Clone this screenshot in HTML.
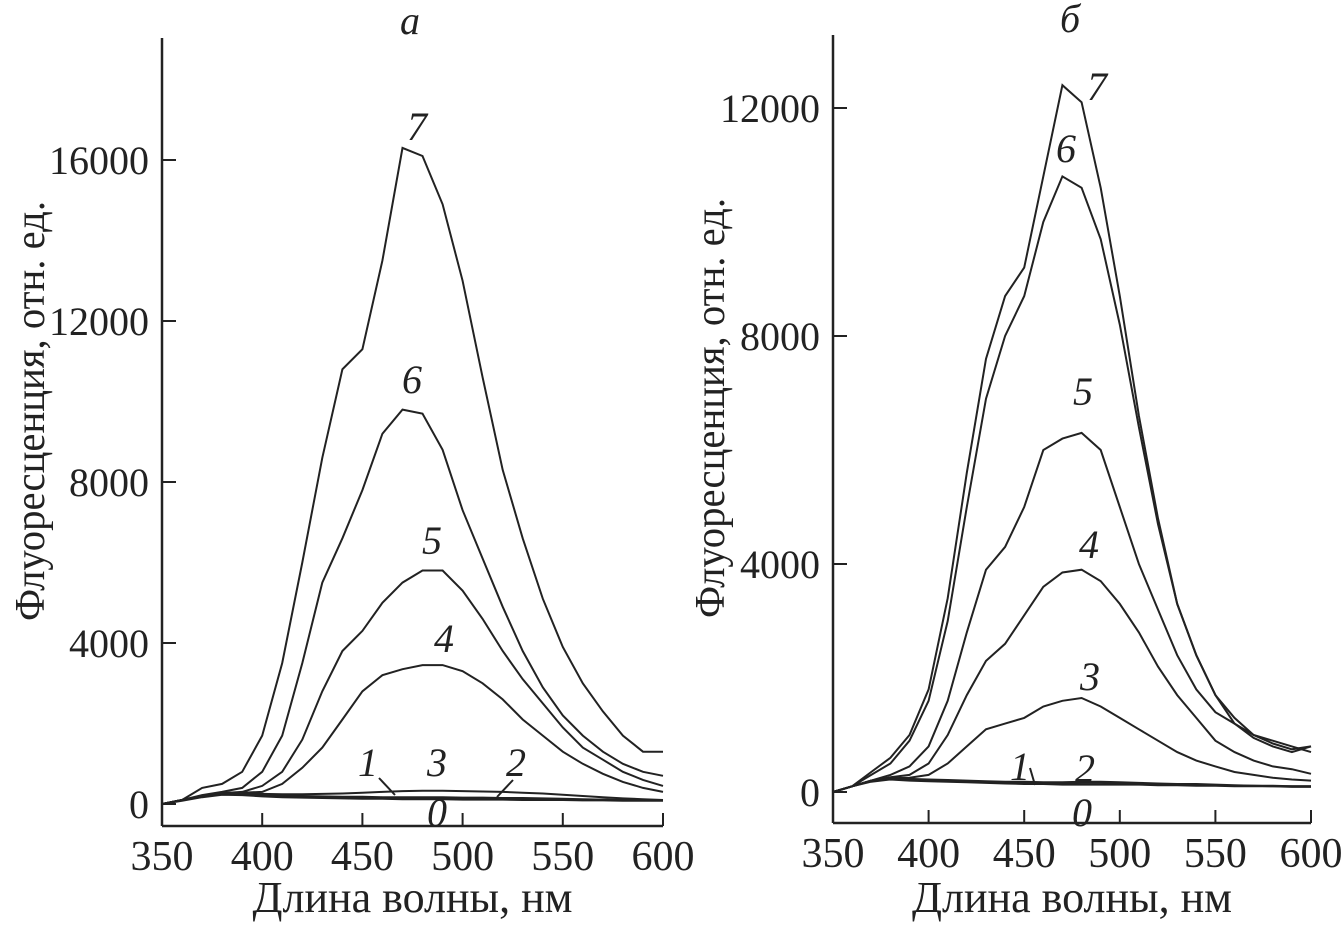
<!DOCTYPE html>
<html><head><meta charset="utf-8"><style>
body{margin:0;background:#fff}
svg{display:block;font-family:"Liberation Serif",serif}
</style></head><body>
<svg id="chart" width="1342" height="926" viewBox="0 0 1342 926">
<g id="pa"></g>
<g id="pb"></g>
</svg>
<script>
const wavelengths=[350,360,370,380,390,400,410,420,430,440,450,460,470,480,490,500,510,520,530,540,550,560,570,580,590,600];
const xTicks=[350,400,450,500,550,600];
const yTicksA=[0,4000,8000,12000,16000];
const yTicksB=[0,4000,8000,12000];
const a0=[0,80,170,230,220,190,170,160,150,140,130,130,120,120,120,110,110,110,100,100,100,90,90,80,80,80];
const a1=[0,100,200,280,260,230,210,190,180,170,160,160,150,150,150,140,140,130,130,120,120,110,110,100,100,100];
const a2=[0,100,200,260,250,230,210,200,190,180,180,170,170,170,170,160,160,150,150,140,130,120,110,100,100,90];
const a3=[0,100,200,280,270,250,240,240,250,260,280,300,320,330,330,320,310,300,280,260,230,200,170,140,120,100];
const a4=[0,100,200,260,280,300,500,900,1400,2100,2800,3200,3350,3450,3450,3300,3000,2600,2100,1700,1300,1000,750,550,400,300];
const a5=[0,100,200,270,300,450,800,1600,2800,3800,4300,5000,5500,5800,5800,5300,4600,3800,3100,2500,1900,1400,1100,800,600,450];
const a6=[0,100,220,300,400,800,1700,3500,5500,6600,7800,9200,9800,9700,8800,7300,6100,4900,3800,2900,2200,1700,1300,1000,800,700];
const a7=[0,100,400,500,800,1700,3500,6000,8600,10800,11300,13500,16300,16100,14900,13000,10600,8300,6600,5100,3900,3000,2300,1700,1300,1300];
const b0=[0,100,180,220,200,190,180,170,160,150,140,140,130,130,130,130,130,120,120,110,110,100,100,100,90,90];
const b1=[0,100,190,230,220,210,200,190,180,170,160,160,150,160,160,150,150,140,130,130,120,110,110,100,100,100];
const b2=[0,100,200,240,230,220,210,200,190,180,180,170,170,180,180,170,160,150,140,140,130,120,110,110,100,100];
const b3=[0,100,200,240,250,300,500,800,1100,1200,1300,1500,1600,1650,1500,1300,1100,900,700,550,450,350,300,250,220,200];
const b4=[0,100,200,260,300,500,1000,1700,2300,2600,3100,3600,3850,3900,3700,3300,2800,2200,1700,1300,900,700,550,450,400,320];
const b5=[0,100,200,300,450,800,1600,2800,3900,4300,5000,6000,6200,6300,6000,5000,4000,3200,2400,1800,1400,1200,1000,900,800,700];
const b6=[0,100,300,500,900,1600,3000,5000,6900,8000,8700,10000,10800,10600,9700,8200,6400,4700,3300,2400,1700,1300,1000,850,750,800];
const b7=[0,100,350,600,1000,1800,3400,5600,7600,8700,9200,10800,12400,12100,10600,8700,6600,4800,3300,2400,1700,1200,950,800,700,800];

const NS="http://www.w3.org/2000/svg";
function mk(parent,tag,attrs,text){const e=document.createElementNS(NS,tag);for(const k in attrs)e.setAttribute(k,attrs[k]);if(text!==undefined)e.textContent=text;parent.appendChild(e);return e;}

function panel(g,cfg){
  const sx=v=>cfg.x0+(v-350)*(cfg.x1-cfg.x0)/250;
  const sy=v=>cfg.y0-v*cfg.k;
  let e=mk(g,'line',{x1:cfg.x0,y1:cfg.top,x2:cfg.x0,y2:cfg.axY,stroke:'#222','stroke-width':2.5});
  
  
  e=mk(g,'line',{x1:cfg.x0,y1:cfg.axY,x2:cfg.x1,y2:cfg.axY,stroke:'#222','stroke-width':2.5});
  
  
  xTicks.forEach(t=>{
    e=mk(g,'line',{x1:sx(t),y1:cfg.axY,x2:sx(t),y2:cfg.axY-13,stroke:'#222','stroke-width':2});
    
    
    e=mk(g,'text',{x:sx(t),y:cfg.axY+44,'font-size':42,'text-anchor':'middle',fill:'#222'},String(t));
    
    
  });
  cfg.yt.forEach(t=>{
    e=mk(g,'line',{x1:cfg.x0,y1:sy(t),x2:cfg.x0+14,y2:sy(t),stroke:'#222','stroke-width':2});
    
    
    e=mk(g,'text',{x:cfg.x0-13,y:sy(t)+14,'font-size':40,'text-anchor':'end',fill:'#222'},String(t));
    
    
  });
  cfg.series.forEach((s,i)=>{
    const pts=s.map((v,j)=>sx(wavelengths[j]).toFixed(1)+','+sy(v).toFixed(1)).join(' ');
    e=mk(g,'polyline',{points:pts,fill:'none',stroke:'#222','stroke-width':2});
    
    
  });
  cfg.labels.forEach(l=>{
    e=mk(g,'text',{x:l[1],y:l[2],'font-size':40,'font-style':'italic',fill:'#222','text-anchor':'middle'},l[0]);
    
    
  });
  cfg.leaders.forEach(p=>{
    e=mk(g,'line',{x1:p[0],y1:p[1],x2:p[2],y2:p[3],stroke:'#222','stroke-width':2});
    
    
  });
  e=mk(g,'text',{x:cfg.title[0],y:cfg.title[1],'font-size':40,'font-style':'italic','text-anchor':'middle',fill:'#222'},cfg.title[2]);
  
  
  e=mk(g,'text',{x:(cfg.x0+cfg.x1)/2,y:912,'font-size':44,'text-anchor':'middle',fill:'#222'},'Длина волны, нм');
  
  
  e=mk(g,'text',{x:0,y:0,'font-size':42,'text-anchor':'middle',fill:'#222',textLength:420,lengthAdjust:'spacingAndGlyphs',transform:`translate(${cfg.ytx},${cfg.yty}) rotate(-90)`},'Флуоресценция, отн. ед.');
  
  
}
panel(document.getElementById('pa'),{x0:162,x1:663,y0:804,k:0.04025,top:38,axY:826,yt:yTicksA,
  series:[a0,a1,a2,a3,a4,a5,a6,a7],
  labels:[['7',417,140],['6',412,393],['5',432,554],['4',444,652],['3',437,776],['1',368,776],['2',516,776],['0',437,826]],
  leaders:[[379,778,395,795],[513,780,497,797]],
  title:[410,34,'а'],ytx:44,yty:411});
panel(document.getElementById('pb'),{x0:833,x1:1311,y0:792,k:0.057,top:35,axY:823,yt:yTicksB,
  series:[b0,b1,b2,b3,b4,b5,b6,b7],
  labels:[['7',1097,100],['6',1066,162],['5',1083,405],['4',1089,558],['3',1090,690],['1',1020,780],['2',1085,782],['0',1082,826]],
  leaders:[[1030,768,1035,785]],
  title:[1070,32,'б'],ytx:724,yty:408});
</script>
</body></html>
